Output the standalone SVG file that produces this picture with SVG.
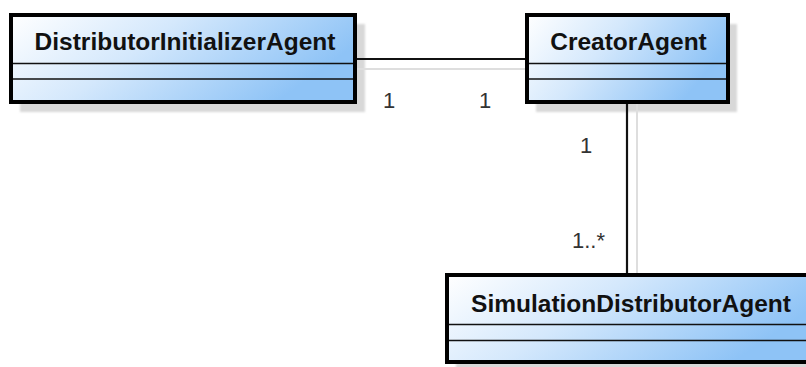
<svg xmlns="http://www.w3.org/2000/svg" width="806" height="367" viewBox="0 0 806 367">
<defs>
<linearGradient id="g" x1="0" y1="0" x2="1" y2="0.35">
<stop offset="0" stop-color="#ffffff"/>
<stop offset="0.45" stop-color="#d4e8fc"/>
<stop offset="1" stop-color="#8ec3f6"/>
</linearGradient>
<filter id="blur" x="-5%" y="-5%" width="110%" height="110%"><feGaussianBlur stdDeviation="1.2"/></filter>
</defs>
<style>
.shadow{fill:#d8d8d8;filter:url(#blur)}
.shline{stroke:#dedede;stroke-width:2;fill:none}
.box{fill:url(#g);stroke:#000;stroke-width:4}
.sep{stroke:#111;stroke-width:1.5}
.title{font-family:"Liberation Sans",Arial,sans-serif;font-weight:bold;font-size:24.5px;fill:#111;text-anchor:middle}
.mult{font-family:"Liberation Sans",Arial,sans-serif;font-size:22px;fill:#333}
.conn{stroke:#111;stroke-width:2.2;fill:none}
</style>
<g id="shadows">
<rect class="shadow" x="20" y="24" width="345" height="88"/>
<rect class="shadow" x="536" y="24" width="201" height="88"/>
<rect class="shadow" x="456" y="284" width="360" height="88"/>
<line class="shline" x1="357" y1="69" x2="535" y2="69"/>
<line class="shline" x1="637" y1="104" x2="637" y2="274"/>
</g>
<g id="connectors">
<line class="conn" x1="357" y1="59" x2="526" y2="59"/>
<line class="conn" x1="627" y1="104" x2="627" y2="274"/>
<text class="mult" x="383" y="108">1</text>
<text class="mult" x="479" y="108">1</text>
<text class="mult" x="580" y="153">1</text>
<text class="mult" x="572" y="248">1..*</text>
</g>
<g id="DistributorInitializerAgent">
<rect class="box" x="11" y="15" width="344" height="87"/>
<line class="sep" x1="13" y1="63.5" x2="353" y2="63.5"/>
<line class="sep" x1="13" y1="79" x2="353" y2="79"/>
<text class="title" x="185" y="50">DistributorInitializerAgent</text>
</g>
<g id="CreatorAgent">
<rect class="box" x="527" y="15" width="201" height="87"/>
<line class="sep" x1="529" y1="63.5" x2="726" y2="63.5"/>
<line class="sep" x1="529" y1="79" x2="726" y2="79"/>
<text class="title" x="628.5" y="50">CreatorAgent</text>
</g>
<g id="SimulationDistributorAgent">
<rect class="box" x="447" y="275" width="370" height="87"/>
<line class="sep" x1="449" y1="324.5" x2="815" y2="324.5"/>
<line class="sep" x1="449" y1="340.5" x2="815" y2="340.5"/>
<text class="title" x="631" y="312">SimulationDistributorAgent</text>
</g>
</svg>
